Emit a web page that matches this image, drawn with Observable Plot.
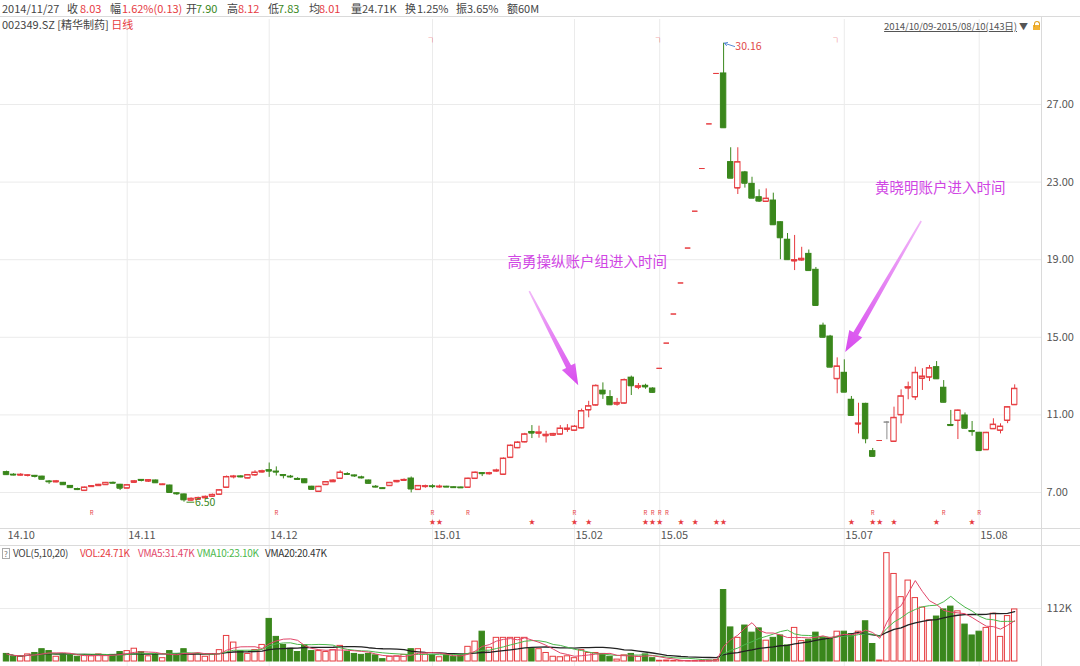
<!DOCTYPE html>
<html lang="zh"><head><meta charset="utf-8">
<script src="https://cdn.jsdelivr.net/npm/d3@7"></script>
<script src="https://cdn.jsdelivr.net/npm/@observablehq/plot@0.6"></script>
<style>
html,body{margin:0;padding:0;background:#fff;}
#wrap{position:relative;width:1080px;height:666px;overflow:hidden;font-family:"Noto Sans CJK SC","Noto Sans",sans-serif;}
.t{position:absolute;white-space:nowrap;font-size:11px;line-height:13px;color:#444;z-index:3;}
.hl{position:absolute;left:0;width:1080px;height:1px;background:#dadada;z-index:2;}
.vl{position:absolute;width:1px;background:#dadada;z-index:2;}
.pl{position:absolute;left:0;z-index:1;}
</style></head>
<body><div id="wrap"></div>
<script>
// ---------- data, one candle per trading day 2014/10/09 - 2015/08/10 ----------
const opens = [8.05,7.92,7.89,7.88,7.86,7.82,7.57,7.54,7.50,7.34,
7.18,7.10,7.30,7.35,7.40,7.50,7.40,7.22,7.52,7.65,
7.58,7.62,7.40,7.36,6.96,6.90,6.60,6.64,6.72,6.80,
6.90,7.26,7.80,7.83,7.74,7.90,8.05,8.15,8.08,7.90,
7.82,7.70,7.68,7.30,7.05,7.40,7.55,7.72,7.95,7.88,
7.78,7.62,7.30,7.22,7.35,7.55,7.62,7.72,7.15,7.30,
7.32,7.28,7.30,7.27,7.26,7.26,7.72,8.00,7.96,8.10,
7.93,8.80,9.30,9.60,10.12,10.05,9.92,9.95,10.00,10.25,
10.20,10.32,11.25,11.50,12.25,11.92,11.55,11.60,12.92,12.42,
12.50,12.36,13.40,14.70,16.20,17.80,19.60,21.50,23.70,26.00,
28.60,28.60,24.03,22.69,23.50,22.91,22.22,22.00,22.05,20.93,
20.03,18.93,18.98,19.30,18.48,15.60,15.04,12.86,13.17,11.78,
10.52,11.57,9.13,9.68,10.63,9.63,11.00,12.38,11.92,12.88,
12.94,13.46,12.40,10.48,10.71,10.97,10.17,10.08,9.20,10.28,
10.20,10.71,11.52];
const highs = [8.10,7.97,7.97,7.92,7.88,7.84,7.62,7.62,7.52,7.36,
7.22,7.28,7.36,7.42,7.52,7.54,7.42,7.40,7.62,7.67,
7.66,7.64,7.44,7.38,6.99,6.92,6.72,6.76,6.82,6.92,
7.14,7.85,7.88,7.86,7.93,8.12,8.15,8.52,8.32,7.92,
7.88,7.76,7.70,7.32,7.32,7.56,7.66,8.12,8.02,7.90,
7.84,7.64,7.36,7.24,7.52,7.62,7.70,7.80,7.36,7.38,
7.40,7.38,7.32,7.29,7.28,7.74,8.06,8.02,8.04,8.20,
8.78,9.45,9.62,10.05,10.45,10.42,10.15,10.05,10.45,10.50,
10.45,11.30,11.70,12.55,12.65,12.25,11.85,12.85,13.00,12.62,
12.58,12.40,13.40,14.70,16.20,17.80,19.60,21.50,23.70,26.00,
28.60,30.16,24.77,24.77,23.55,23.25,22.60,22.65,22.43,20.95,
20.35,20.25,19.64,19.50,18.60,15.73,15.10,13.94,13.84,11.95,
11.60,11.60,9.27,9.68,10.66,11.40,12.29,12.69,13.46,13.38,
13.55,13.75,12.77,11.23,11.25,11.10,10.66,10.10,10.10,10.80,
10.54,11.42,12.55];
const lows = [7.90,7.86,7.85,7.80,7.75,7.66,7.42,7.50,7.38,7.22,
7.10,7.08,7.26,7.32,7.38,7.45,7.10,7.20,7.48,7.55,
7.52,7.48,7.36,6.98,6.85,6.50,6.55,6.60,6.68,6.76,
6.88,7.24,7.70,7.76,7.70,7.83,8.00,7.78,7.85,7.70,
7.74,7.62,7.48,7.14,7.02,7.38,7.52,7.68,7.88,7.78,
7.70,7.45,7.24,7.18,7.33,7.50,7.58,6.98,7.12,7.22,
7.20,7.22,7.26,7.23,7.22,7.24,7.70,7.82,7.90,8.05,
7.90,8.76,9.26,9.56,9.78,9.80,9.55,9.90,9.96,10.10,
10.15,10.28,10.85,11.45,11.80,11.48,11.45,11.55,12.00,12.30,
12.32,12.12,13.40,14.70,16.20,17.80,19.60,21.50,23.70,26.00,
28.60,25.80,23.20,22.36,22.69,22.17,21.95,21.95,20.78,19.00,
18.98,18.44,18.92,18.44,16.60,14.98,13.44,12.09,12.15,10.95,
10.02,9.51,8.84,9.68,9.72,9.63,10.54,11.78,11.74,12.26,
12.72,12.84,11.63,10.42,9.73,10.29,9.90,9.14,9.18,10.26,
10.02,10.55,11.50];
const closes = [7.92,7.90,7.92,7.89,7.83,7.68,7.55,7.58,7.40,7.25,
7.15,7.26,7.33,7.40,7.50,7.48,7.22,7.38,7.58,7.62,
7.64,7.50,7.42,7.00,6.93,6.62,6.68,6.72,6.78,6.88,
7.12,7.80,7.83,7.80,7.90,8.03,8.10,8.10,8.05,7.87,
7.80,7.67,7.50,7.16,7.30,7.54,7.62,8.03,7.93,7.85,
7.75,7.47,7.28,7.20,7.50,7.60,7.65,7.18,7.34,7.33,
7.30,7.31,7.28,7.25,7.24,7.72,8.03,7.97,8.00,8.14,
8.75,9.42,9.58,10.00,10.06,10.10,9.98,10.02,10.30,10.30,
10.40,11.20,11.45,12.50,12.08,11.52,11.62,12.80,12.50,12.48,
12.44,12.16,13.40,14.70,16.20,17.80,19.60,21.50,23.70,26.00,
28.60,25.80,23.20,24.03,22.94,22.17,22.02,22.15,20.80,20.13,
19.00,18.98,19.05,18.44,16.64,15.00,13.46,13.50,12.17,10.97,
10.56,9.77,8.86,9.68,10.63,10.85,11.96,12.43,13.17,12.98,
13.41,12.86,11.65,10.45,11.23,10.31,10.14,9.16,10.08,10.50,
10.40,11.40,12.35];
// volume, thousands of lots
const volumes = [16,10,10,15,18,26,22,10,16,13,
10,13,11,15,13,14,20,22,27,20,
11,16,7,22,15,26,15,16,10,15,
24,54,40,22,16,24,35,90,52,35,
27,20,34,22,22,20,24,33,20,16,
14,16,13,5,10,11,14,26,26,15,
14,9,13,10,13,31,42,63,29,50,
50,50,50,50,27,26,18,10,9,11,
7,24,18,18,16,10,4,13,16,10,
15,7,1.5,2,1,1,1,1,1.5,2,
3,151,72,50,76,61,70,44,50,55,
34,71,43,46,61,50,50,63,63,58,
63,85,37,2,229,185,136,171,134,114,
87,95,110,116,106,78,55,63,71,101,
52,96,110];
const neutralIdx = [124];                       // drawn grey (open = close)
const monthIdx = [0,17,37,60,80,92,118,137];
const monthLabels = ["14.10","14.11","14.12","15.01","15.02","15.05","15.07","15.08"];
const priceTicks = [7,11,15,19,23,27];
const volTicks = [112];
const rIdx = [12,38,60,65,80,90,91,92,93,122,132,137];
const starIdx = [60,61,74,80,82,90,91,92,95,97,100,101,119,122,123,125,131,136];
const flagIdx = [60,92,117];
const maxMark = [{i:101, p:30.16}];
const minMark = [{i:25, p:6.50}];
const noteLabels = ["高勇操纵账户组进入时间","黄晓明账户进入时间"];
const noteTextAt = [{i:81.8, p:18.86},{i:131.5, p:22.67}];
const noteArrowFrom = [{i:73.7, p:17.36},{i:128.9, p:20.97}];
const noteArrowTo = [{i:80.6, p:12.5},{i:118.2, p:14.22}];
const headerRow = [["2014/11/27","n"],["收","n"],["8.03","r"],["幅","n"],["1.62%(0.13)","r"],["开","n"],["7.90","g"],["高","n"],["8.12","r"],["低","n"],["7.83","g"],["均","n"],["8.01","r"],["量","n"],["24.71K","n"],["换","n"],["1.25%","n"],["振","n"],["3.65%","n"],["额","n"],["60M","n"]];
const legendRow = [["VOL(5,10,20)","n"],["VOL:24.71K","r"],["VMA5:31.47K","p"],["VMA10:23.10K","g2"],["VMA20:20.47K","k"]];

// ---------- styling ----------
const RED = "#e63b3f", GREEN = "#3a871c", GRAY = "#8c8c8c";
const GRID = "#ebebeb", LAB = "#555";
const FONT = '"Noto Sans CJK SC","Noto Sans",sans-serif';
const colorOf = {n:"#444", r:RED, g:GREEN, p:"#e2476a", g2:"#4cb84c", k:"#333"};
const wrap = document.getElementById("wrap");

function addText(txt, x, y, color, css) {
  const s = document.createElement("div");
  s.className = "t";
  s.textContent = txt;
  if (x !== null) s.style.left = x + "px";
  s.style.top = y + "px"; s.style.color = color;
  if (css) Object.assign(s.style, css);
  wrap.appendChild(s);
  return s;
}
function line(cls, css) { const d = document.createElement("div"); d.className = cls; Object.assign(d.style, css); wrap.appendChild(d); }

// header
const headerX = [2,67,80,110,122,186,196,227,238,268,278,309,319,351,362,405,417,456,467,507,518];
headerRow.forEach(([t,c],k) => addText(t, headerX[k], 2, colorOf[c]));
line("hl", {top:"16px"});
const sym = addText("002349.SZ [精华制药] ", 2, 18, "#444");
const dl = document.createElement("span"); dl.textContent = "日线"; dl.style.color = RED; sym.appendChild(dl);
addText("2014/10/09-2015/08/10(143日)", null, 20, "#555", {right: "63px", fontSize: "9.6px", letterSpacing: "-0.1px", textDecoration: "underline"});
addText("▼", 1019, 20, "#555", {fontSize: "9px"});
const lock = document.createElement("div");
Object.assign(lock.style, {position:"absolute", left:"1033px", top:"25px", width:"7px", height:"5px", background:"#f2b233", zIndex:3});
wrap.appendChild(lock);
const shackle = document.createElement("div");
Object.assign(shackle.style, {position:"absolute", left:"1034px", top:"21px", width:"4px", height:"5px", border:"1px solid #e0a020", borderBottom:"none", borderRadius:"3px 3px 0 0", zIndex:3});
wrap.appendChild(shackle);

// ---------- candles ----------
const candles = opens.map((o, i) => {
  const c = closes[i];
  let col;
  if (neutralIdx.includes(i)) col = GRAY;
  else if (c > o) col = RED;
  else if (c < o) col = GREEN;
  else col = (i > 0 && c < closes[i-1]) ? GREEN : RED;
  return {i, o, h: highs[i], l: lows[i], c, v: volumes[i], col, down: col === GREEN};
});
const HALF = 0.38;
const xDef = {domain: [-6/7.1, 1035/7.1], range: [0, 1041], axis: null};

function taperArrows(from, to) {
  return (index, scales) => {
    const g = d3.create("svg:g");
    const defs = g.append("defs");
    from.forEach((a, k) => {
      const b = to[k];
      const x1 = scales.x(a.i), y1 = scales.y(a.p), x2 = scales.x(b.i), y2 = scales.y(b.p);
      const L = Math.hypot(x2-x1, y2-y1), ux = (x2-x1)/L, uy = (y2-y1)/L, nx = -uy, ny = ux;
      const headL = 21, headW = 7.5, neckW = 2.8, tailW = 0.8;
      const bx = x2 - ux*headL, by = y2 - uy*headL;
      const pts = [
        [x1 + nx*tailW, y1 + ny*tailW], [bx + nx*neckW, by + ny*neckW], [bx + nx*headW, by + ny*headW],
        [x2, y2],
        [bx - nx*headW, by - ny*headW], [bx - nx*neckW, by - ny*neckW], [x1 - nx*tailW, y1 - ny*tailW]];
      const id = "arrGrad" + k;
      const lg = defs.append("linearGradient").attr("id", id).attr("gradientUnits", "userSpaceOnUse")
        .attr("x1", x1).attr("y1", y1).attr("x2", x2).attr("y2", y2);
      lg.append("stop").attr("offset", "0").attr("stop-color", "#f1b8f8");
      lg.append("stop").attr("offset", "1").attr("stop-color", "#d84cee");
      g.append("polygon").attr("points", pts.map(p => p.join(",")).join(" ")).attr("fill", `url(#${id})`);
    });
    return g.node();
  };
}

const notes = noteLabels.map((t, k) => ({text: t, i: noteTextAt[k].i, p: noteTextAt[k].p}));

const price = Plot.plot({
  width: 1080, height: 526,
  marginTop: 0, marginBottom: 0, marginLeft: 0, marginRight: 39,
  x: xDef,
  y: {domain: [7, 27], range: [473, 85], axis: null, label: null},
  color: {type: "identity"},
  style: {background: "transparent", fontFamily: FONT, overflow: "visible"},
  marks: [
    Plot.gridY(priceTicks, {stroke: GRID, strokeOpacity: 1}),
    Plot.gridX(monthIdx.slice(1), {stroke: GRID, strokeOpacity: 1}),
    Plot.axisY(priceTicks, {anchor: "right", label: null, tickSize: 0, tickPadding: 5, tickFormat: d => d.toFixed(2), fontSize: 11, fill: LAB}),
    Plot.text(monthIdx, {x: d => d, frameAnchor: "bottom", dy: -6.5, dx: 1, textAnchor: "start",
      text: d => monthLabels[monthIdx.indexOf(d)], fontSize: 11, fill: LAB}),
    Plot.ruleX(candles, {x: "i", y1: "l", y2: "h", stroke: "col", strokeWidth: 1}),
    Plot.rect(candles, {x1: d => d.i - HALF, x2: d => d.i + HALF, y1: "o", y2: "c",
      fill: d => d.down ? GREEN : "#fff", stroke: "col", strokeWidth: 1}),
    Plot.ruleY(candles, {x1: d => d.i - HALF, x2: d => d.i + HALF, y: "c", stroke: "col", strokeWidth: 1}),
    Plot.ruleY(candles, {x1: d => d.i - HALF, x2: d => d.i + HALF, y: "o", stroke: "col", strokeWidth: 1}),
    Plot.text(rIdx, {x: d => d, frameAnchor: "bottom", dy: -31, text: () => "R", fill: RED, fontSize: 6}),
    Plot.text(starIdx, {x: d => d, frameAnchor: "bottom", dy: -21.5, text: () => "★", fill: RED, fontSize: 6.5}),
    Plot.text(flagIdx, {x: d => d, frameAnchor: "top", dy: 16, text: () => "┐", fill: RED, fontSize: 8, fontWeight: "bold"}),
    Plot.arrow(maxMark, {x1: d => d.i + 1.55, y1: d => d.p - 0.17, x2: d => d.i + 0.1, y2: d => d.p,
      stroke: "#5b8ed6", strokeWidth: 1, headLength: 5}),
    Plot.text(maxMark, {x: d => d.i + 1.65, y: d => d.p - 0.17, text: d => d.p.toFixed(2), textAnchor: "start", fill: "#e04848", fontSize: 10.5}),
    Plot.link(minMark, {x1: d => d.i + 0.35, y1: d => d.p, x2: d => d.i + 1.45, y2: d => d.p, stroke: GREEN, strokeWidth: 1}),
    Plot.text(minMark, {x: d => d.i + 1.55, y: d => d.p, text: d => d.p.toFixed(2), textAnchor: "start", fill: GREEN, fontSize: 10.5}),
    taperArrows(noteArrowFrom, noteArrowTo),
    Plot.text(notes, {x: "i", y: "p", text: "text", fill: "#d045e4", fontSize: 14.5})
  ]
});
price.classList.add("pl");
price.style.top = "19px";
wrap.appendChild(price);

// ---------- volume ----------
const vol = Plot.plot({
  width: 1080, height: 121,
  marginTop: 0, marginBottom: 0, marginLeft: 0, marginRight: 39,
  x: xDef,
  y: {domain: [0, 112], range: [116, 63], axis: null, label: null},
  color: {type: "identity"},
  style: {background: "transparent", fontFamily: FONT, overflow: "visible"},
  marks: [
    Plot.gridX(monthIdx.slice(1), {stroke: GRID, strokeOpacity: 1}),
    Plot.gridY(volTicks, {stroke: GRID, strokeOpacity: 1}),
    Plot.axisY(volTicks, {anchor: "right", label: null, tickSize: 0, tickPadding: 5, tickFormat: d => d + "K", fontSize: 11, fill: LAB}),
    Plot.rect(candles, {x1: d => d.i - HALF, x2: d => d.i + HALF, y1: () => 0, y2: "v",
      fill: d => d.down ? GREEN : "#fff", stroke: d => d.down ? GREEN : RED, strokeWidth: 1}),
    Plot.lineY(candles, Plot.windowY({k: 20, anchor: "end", reduce: "mean"}, {x: "i", y: "v", stroke: "#222", strokeWidth: 1.3})),
    Plot.lineY(candles, Plot.windowY({k: 10, anchor: "end", reduce: "mean"}, {x: "i", y: "v", stroke: "#4cb84c", strokeWidth: 1})),
    Plot.lineY(candles, Plot.windowY({k: 5, anchor: "end", reduce: "mean"}, {x: "i", y: "v", stroke: "#e2476a", strokeWidth: 1}))
  ]
});
vol.classList.add("pl");
vol.style.top = "545px";
wrap.appendChild(vol);

// legend of the volume panel
addText("?", 2, 548, "#777", {fontSize: "8px", lineHeight: "9px", border: "1px solid #aaa", padding: "0 1px"});
const legendX = [13, 80, 138, 197, 265];
legendRow.forEach(([t,c],k) => addText(t, legendX[k], 546, colorOf[c], {fontSize: "10px", letterSpacing: "-0.3px"}));

// frame lines
line("hl", {top: "528px"});
line("hl", {top: "545px"});
line("vl", {left: "1041px", top: "16px", height: "650px"});
</script>
</body></html>
